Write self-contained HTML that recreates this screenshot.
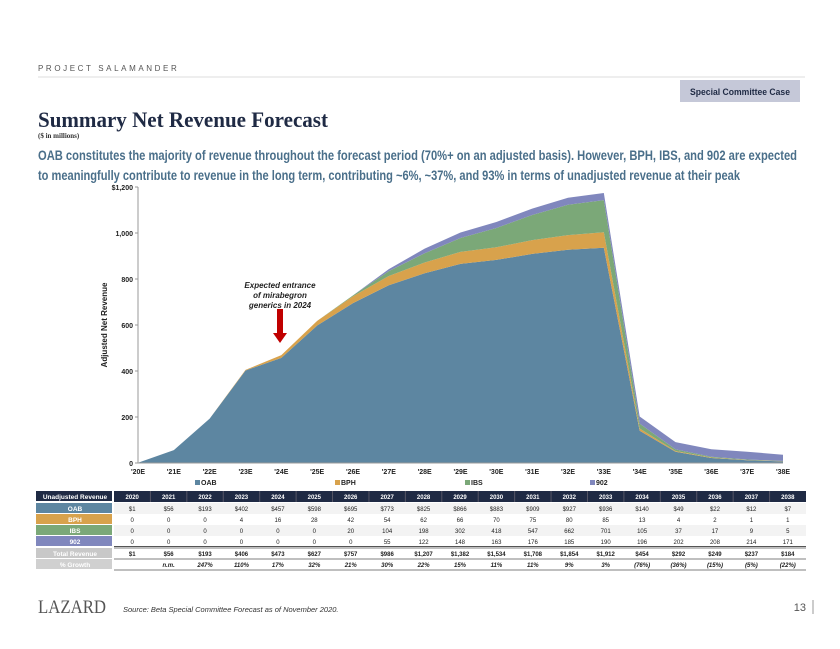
<!DOCTYPE html>
<html><head><meta charset="utf-8"><style>
body{margin:0;background:#fff}
svg{display:block;font-family:"Liberation Sans",Arial,sans-serif}
</style></head><body>
<svg id="s" width="840" height="649" viewBox="0 0 840 649" xmlns="http://www.w3.org/2000/svg">
<text x="38" y="71" font-size="8" letter-spacing="2.6" fill="#555">PROJECT SALAMANDER</text>
<line x1="38" y1="77" x2="805" y2="77" stroke="#ddd"/>
<rect x="680" y="80" width="120" height="22" fill="#c5c8d8"/>
<text x="740" y="95" font-size="9" font-weight="bold" fill="#1f2a44" text-anchor="middle" textLength="100" lengthAdjust="spacingAndGlyphs">Special Committee Case</text>
<text x="38" y="127" font-family="Liberation Serif,serif" font-size="22" font-weight="bold" fill="#1f2a44" textLength="290" lengthAdjust="spacingAndGlyphs">Summary Net Revenue Forecast</text>
<text x="38" y="138" font-family="Liberation Serif,serif" font-size="7" font-weight="bold" fill="#333">($ in millions)</text>
<text x="38" y="160" font-size="14" font-weight="bold" fill="#4a6f8a" textLength="759" lengthAdjust="spacingAndGlyphs">OAB constitutes the majority of revenue throughout the forecast period (70%+ on an adjusted basis). However, BPH, IBS, and 902 are expected</text>
<text x="38" y="180" font-size="14" font-weight="bold" fill="#4a6f8a" textLength="702" lengthAdjust="spacingAndGlyphs">to meaningfully contribute to revenue in the long term, contributing ~6%, ~37%, and 93% in terms of unadjusted revenue at their peak</text>
<g id="chart"></g>
<g id="table"></g>
<text x="38" y="613" font-family="Liberation Serif,serif" font-size="19" fill="#555" textLength="68" lengthAdjust="spacingAndGlyphs">LAZARD</text>
<text x="123" y="612" font-size="7.5" font-style="italic" fill="#333">Source:  Beta Special Committee Forecast as of November 2020.</text>
<text x="806" y="611" font-size="11" fill="#555" text-anchor="end">13</text>
<line x1="813" y1="600" x2="813" y2="614" stroke="#999"/>
</svg>
<script>
const categories=["'20E","'21E","'22E","'23E","'24E","'25E","'26E","'27E","'28E","'29E","'30E","'31E","'32E","'33E","'34E","'35E","'36E","'37E","'38E"];
const oabAdj=[1,56,193,402,457,598,695,773,825,866,883,909,927,936,140,49,22,12,7];
const bphAdj=[0,0,0,3,12,20,30,40,47,52,55,60,64,67,10,3,2,1,1];
const ibsAdj=[0,0,0,0,0,0,4,21,40,60,84,109,132,140,21,7,3,2,1];
const n902Adj=[0,0,0,0,0,0,0,9,20,24,26,28,30,31,31,32,33,34,27];
const yTicks=[0,200,400,600,800,1000,1200];
const yTickLabels=["0","200","400","600","800","1,000","$1,200"];
const years=["2020","2021","2022","2023","2024","2025","2026","2027","2028","2029","2030","2031","2032","2033","2034","2035","2036","2037","2038"];
const oabRow=["$1","$56","$193","$402","$457","$598","$695","$773","$825","$866","$883","$909","$927","$936","$140","$49","$22","$12","$7"];
const bphRow=["0","0","0","4","16","28","42","54","62","66","70","75","80","85","13","4","2","1","1"];
const ibsRow=["0","0","0","0","0","0","20","104","198","302","418","547","662","701","105","37","17","9","5"];
const row902=["0","0","0","0","0","0","0","55","122","148","163","176","185","190","196","202","208","214","171"];
const totalRow=["$1","$56","$193","$406","$473","$627","$757","$986","$1,207","$1,382","$1,534","$1,708","$1,854","$1,912","$454","$292","$249","$237","$184"];
const growthRow=["","n.m.","247%","110%","17%","32%","21%","30%","22%","15%","11%","11%","9%","3%","(76%)","(36%)","(15%)","(5%)","(22%)"];

const NS="http://www.w3.org/2000/svg";
function mk(parent,tag,attrs,txt){const e=document.createElementNS(NS,tag);for(const k in attrs)e.setAttribute(k,attrs[k]);if(txt!==undefined)e.textContent=txt;parent.appendChild(e);return e;}
const X0=138,X1=783,Y0=463,Y1=187,YMAX=1200;
const xs=i=>X0+(X1-X0)*i/(categories.length-1);
const ys=v=>Y0-(Y0-Y1)*v/YMAX;
const chart=document.getElementById('chart');
const series=[[oabAdj,"#5d86a1","oab"],[bphAdj,"#d8a24c","bph"],[ibsAdj,"#7ba878","ibs"],[n902Adj,"#8087bd","902"]];
let base=categories.map(()=>0);
series.forEach(([vals,col,nm])=>{
  const top=base.map((b,i)=>b+vals[i]);
  let d="M"+categories.map((c,i)=>xs(i)+","+ys(top[i])).join(" L");
  for(let i=categories.length-1;i>=0;i--)d+=" L"+xs(i)+","+ys(base[i]);
  const p=mk(chart,"path",{d:d+"Z",fill:col});
  
  
  base=top;
});
const ax=mk(chart,"line",{x1:X0,y1:Y1,x2:X0,y2:Y0,stroke:"#999"});


const xa=mk(chart,"line",{x1:X0,y1:Y0,x2:X1,y2:Y0,stroke:"#999"});


yTicks.forEach((v,i)=>{
  const t=mk(chart,"text",{x:X0-5,y:ys(v)+3,"font-size":7,"font-weight":"bold","text-anchor":"end",fill:"#222"},yTickLabels[i]);
  
  
  mk(chart,"line",{x1:X0-3,y1:ys(v),x2:X0,y2:ys(v),stroke:"#999"});
});
categories.forEach((c,i)=>{
  const t=mk(chart,"text",{x:xs(i),y:474,"font-size":7,"font-weight":"bold","text-anchor":"middle",fill:"#222"},c);
  
  
});
const yt=mk(chart,"text",{x:0,y:0,transform:"translate(107,325) rotate(-90)","font-size":8,"font-weight":"bold","text-anchor":"middle",fill:"#222"},"Adjusted  Net Revenue");


[["OAB",195,"#5d86a1"],["BPH",335,"#d8a24c"],["IBS",465,"#7ba878"],["902",590,"#8087bd"]].forEach(([l,x,c])=>{
  const g=mk(chart,"g",{});
  
  
  mk(g,"rect",{x:x,y:480,width:5,height:5,fill:c});
  mk(g,"text",{x:x+6,y:485,"font-size":7,"font-weight":"bold",fill:"#222"},l);
});
const ann=mk(chart,"text",{x:280,y:288,"font-size":8,"font-weight":"bold","font-style":"italic","text-anchor":"middle",fill:"#222"});


["Expected entrance","of mirabegron","generics in 2024"].forEach((l,i)=>mk(ann,"tspan",{x:280,dy:i?10:0},l));
const ar=mk(chart,"path",{d:"M277,309 L283,309 L283,333 L287,333 L280,343 L273,333 L277,333Z",fill:"#c00000"});



const tb=document.getElementById('table');
const L0=36,L1=114,C1=806,cw=(C1-L1)/19;
const rows=[["Unadjusted Revenue",years,"#1f2a44","#fff",491,11,true,"#1f2a44"],
["OAB",oabRow,"#5d86a1","#222",503,11,false,"#f3f3f3"],
["BPH",bphRow,"#d8a24c","#222",514,11,false,"#fff"],
["IBS",ibsRow,"#7ba878","#222",525,11,false,"#f3f3f3"],
["902",row902,"#8087bd","#222",536,11,false,"#fff"],
["Total Revenue",totalRow,"#c8c8c8","#222",548,11,true,"#fff"],
["% Growth",growthRow,"#d0d0d0","#222",559,11,true,"#fff"]];
rows.forEach(([lab,vals,lc,tc,y,h,b,bg],ri)=>{
  const g=mk(tb,"g",{});
  
  
  mk(g,"rect",{x:L1,y:y,width:C1-L1,height:h,fill:bg});
  mk(g,"rect",{x:L0,y:y,width:L1-L0-2,height:h-1,fill:lc});
  mk(g,"text",{x:(L0+L1)/2,y:y+8,"font-size":6.5,"font-weight":"bold","text-anchor":"middle",fill:"#fff"},lab);
  vals.forEach((v,i)=>{
    mk(g,"text",{x:L1+cw*(i+0.5),y:y+8,"font-size":6,"font-weight":b?"bold":"normal","font-style":ri===6?"italic":"normal","text-anchor":"middle",fill:ri===0?"#fff":tc},v);
    if(ri===0&&i>0)mk(g,"line",{x1:L1+cw*i,y1:y,x2:L1+cw*i,y2:y+h,stroke:"#556"});
  });
});
mk(tb,"line",{x1:L1,y1:546.5,x2:C1,y2:546.5,stroke:"#555",'stroke-width':1});
mk(tb,"line",{x1:L1,y1:548,x2:C1,y2:548,stroke:"#555",'stroke-width':0.8});
mk(tb,"line",{x1:L1,y1:559,x2:C1,y2:559,stroke:"#555",'stroke-width':0.8});
mk(tb,"line",{x1:L1,y1:570,x2:C1,y2:570,stroke:"#555",'stroke-width':0.8});
</script>
</body></html>
